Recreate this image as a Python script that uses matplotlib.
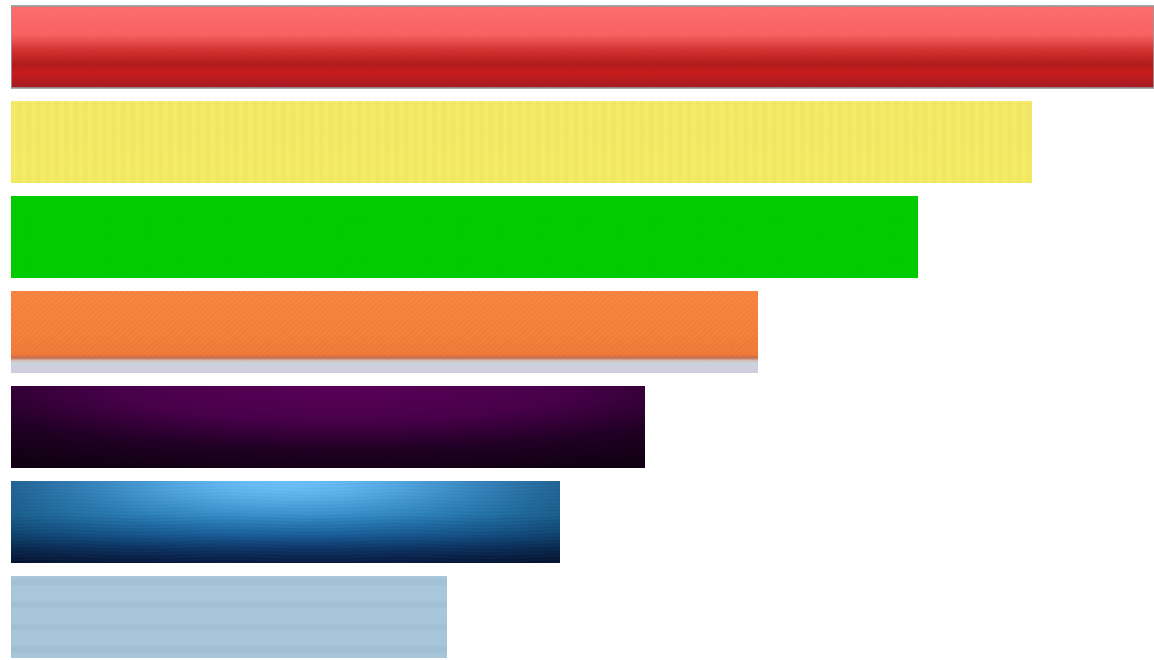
import matplotlib
matplotlib.use('Agg')

import matplotlib.pyplot as plt
import numpy as np

# Werte der Balken (von oben nach unten)
labels = ['Rot', 'Gelb', 'Grün', 'Orange', 'Lila', 'Blau', 'Hellblau']
values = [100.0, 89.3, 79.3, 65.3, 55.4, 48.0, 38.1]

W, H = 400, 80


def ramp(t, stops):
    # Farbverlauf aus (position, (r, g, b)) Stützstellen
    pos = [s[0] for s in stops]
    out = np.zeros(t.shape + (3,))
    for c in range(3):
        out[..., c] = np.interp(t, pos, [s[1][c] for s in stops])
    return out / 255.0


def grid():
    y, x = np.mgrid[0:H, 0:W]
    return x / (W - 1), y / (H - 1), x, y


def tex_red():
    u, v, x, y = grid()
    img = ramp(v, [(0, (255, 110, 110)), (0.35, (248, 98, 98)), (0.55, (208, 48, 48)),
                   (0.72, (178, 28, 28)), (0.82, (200, 28, 28)), (1, (165, 28, 38))])
    img += 0.025 * np.sin((x * 3 + y * 3) * 0.9)[..., None]
    return np.clip(img, 0, 1)


def tex_yellow():
    u, v, x, y = grid()
    img = ramp(v, [(0, (243, 232, 104)), (1, (243, 234, 100))])
    img += 0.012 * np.sin(x * 1.7)[..., None] + 0.01 * np.sin(y * 2.3)[..., None]
    return np.clip(img, 0, 1)


def tex_green():
    u, v, x, y = grid()
    return ramp(v, [(0, (0, 204, 0)), (1, (0, 204, 0))])


def tex_orange():
    u, v, x, y = grid()
    img = ramp(v, [(0, (247, 132, 64)), (0.5, (245, 128, 60)), (0.78, (240, 122, 58)),
                   (0.82, (192, 108, 78)), (0.85, (215, 190, 180)), (0.88, (205, 212, 222)),
                   (1, (212, 204, 222))])
    img += 0.02 * np.sin(x * 2.1 + y * 1.3)[..., None] * (v < 0.8)[..., None]
    return np.clip(img, 0, 1)


def tex_purple():
    u, v, x, y = grid()
    d = np.sqrt(((u - 0.52) / 0.8) ** 2 + (v / 0.95) ** 2)
    img = ramp(d, [(0, (90, 0, 88)), (0.45, (72, 0, 74)), (0.8, (34, 0, 38)), (1.2, (14, 0, 16))])
    return np.clip(img, 0, 1)


def tex_blue():
    u, v, x, y = grid()
    edge = np.abs(u - 0.5)[..., None] * 2
    base = ramp(v, [(0, (40, 122, 186)), (0.4, (34, 122, 182)), (0.65, (22, 90, 148)),
                    (0.82, (14, 55, 105)), (1, (10, 28, 66))])
    base = base * (1 - 0.25 * edge ** 2)
    light = ramp(v, [(0, (105, 190, 245)), (1, (105, 190, 245))])
    g = np.exp(-((u - 0.5) / 0.32) ** 2 - (v / 0.4) ** 2)[..., None]
    img = base * (1 - g) + light * g
    img += 0.012 * np.sin(y * 1.9 + np.sin(x * 0.05) * 2)[..., None]
    return np.clip(img, 0, 1)


def tex_lightblue():
    u, v, x, y = grid()
    img = ramp(v, [(0, (170, 200, 220)), (1, (168, 198, 218))])
    img -= 0.04 * np.clip(np.sin(y * 2 * np.pi / 23 * 84 / 80), 0.3, 1)[..., None] - 0.012
    return np.clip(img, 0, 1)


textures = [tex_red, tex_yellow, tex_green, tex_orange, tex_purple, tex_blue, tex_lightblue]


def main():
    fig = plt.figure(figsize=(11.54, 6.6), dpi=100)
    ax = fig.add_axes([11 / 1154, 0, 1 - 11 / 1154, 1])

    pos = np.arange(len(values))
    bars = ax.barh(pos, values, height=0.86, color='none')

    for bar, tex in zip(bars, textures):
        x0, y0 = bar.get_x(), bar.get_y()
        x1, y1 = x0 + bar.get_width(), y0 + bar.get_height()
        im = ax.imshow(tex(), extent=[x0, x1, y1, y0], aspect='auto', interpolation='bilinear')
        im.set_clip_path(bar)

    # grauer Rahmen um den ersten Balken
    bars[0].set_edgecolor('#9a9a9a')
    bars[0].set_linewidth(1.2)
    bars[0].set_zorder(5)

    ax.set_xlim(0, values[0])
    ax.set_ylim((660 - 47) / 95, -47 / 95)
    ax.axis('off')

    fig.savefig('out.png', dpi=100)
    plt.close(fig)


if __name__ == "__main__":
    main()
